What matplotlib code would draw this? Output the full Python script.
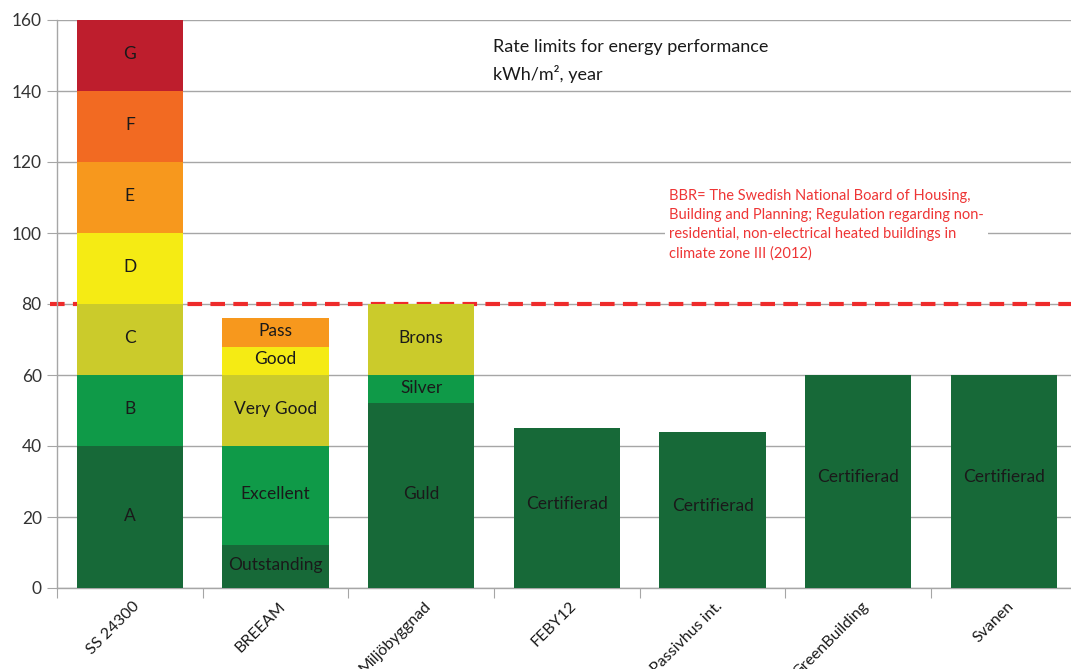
import matplotlib
matplotlib.use("Agg")
import matplotlib.pyplot as plt
import numpy as np

plt.rcParams['font.family'] = ['Lato', 'DejaVu Sans']

categories = ["SS 24300", "BREEAM", "Miljöbyggnad", "FEBY12", "Passivhus int.", "GreenBuilding", "Svanen"]

# stacked segments per category: (label, bottom, top, colour key)
ss_labels = ["A", "B", "C", "D", "E", "F", "G"]
ss_bounds = [0, 40, 60, 80, 100, 120, 140, 160]
ss_colors = ["dkgreen", "green", "olive", "yellow", "orange", "dkorange", "red"]

breeam_labels = ["Outstanding", "Excellent", "Very Good", "Good", "Pass"]
breeam_bounds = [0, 12, 40, 60, 68, 76]
breeam_colors = ["dkgreen", "green", "olive", "yellow", "orange"]

miljo_labels = ["Guld", "Silver", "Brons"]
miljo_bounds = [0, 52, 60, 80]
miljo_colors = ["dkgreen", "green", "olive"]

single_labels = ["Certifierad", "Certifierad", "Certifierad", "Certifierad"]
single_values = [45, 44, 60, 60]

bbr_limit = 80

palette = {
    "dkgreen": "#176938",
    "green": "#0F9A48",
    "olive": "#CBCB2B",
    "yellow": "#F5EB14",
    "orange": "#F7981D",
    "dkorange": "#F26A22",
    "red": "#BE1E2D",
}

fig = plt.figure(figsize=(10.71, 6.69), dpi=100)
ax = fig.add_axes([57/1071, (669-588)/669, 1 - 57/1071, (588-20)/669])

width = 0.73

def draw_stack(xi, labels, bounds, colors):
    for lab, b0, b1, c in zip(labels, bounds[:-1], bounds[1:], colors):
        ax.bar(xi, b1 - b0, bottom=b0, width=width, color=palette[c], zorder=3)
        ax.annotate(lab, xy=(xi, (b0 + b1) / 2), xytext=(0, 1), textcoords="offset points",
                    ha="center", va="center", fontsize=12.5, color="#1a1a1a", zorder=4)

draw_stack(0, ss_labels, ss_bounds, ss_colors)
draw_stack(1, breeam_labels, breeam_bounds, breeam_colors)
draw_stack(2, miljo_labels, miljo_bounds, miljo_colors)

for i, (lab, v) in enumerate(zip(single_labels, single_values)):
    xi = 3 + i
    ax.bar(xi, v, width=width, color=palette["dkgreen"], zorder=3)
    ax.annotate(lab, xy=(xi, v / 2), xytext=(0, 3), textcoords="offset points",
                ha="center", va="center", fontsize=12.5, color="#1a1a1a", zorder=4)

ax.axhline(bbr_limit, color="#EE2B2B", lw=3, ls=(0, (3.5, 2)), zorder=2.5,
           xmin=-0.007, clip_on=False)

ax.set_ylim(0, 160)
ax.set_xlim(-0.5, 6.46)
ax.set_yticks(np.arange(0, 161, 20))
ax.yaxis.grid(True, color="#A6A6A6", lw=1, zorder=1)
ax.set_axisbelow(True)
for s in ["top", "right"]:
    ax.spines[s].set_visible(False)
for s in ["left", "bottom"]:
    ax.spines[s].set_color("#A6A6A6")
    ax.spines[s].set_linewidth(1)
ax.tick_params(axis="y", length=7, color="#A6A6A6", labelsize=12.5, labelcolor="#333333", pad=4)

ax.set_xticks(np.arange(-0.5, 6.5, 1.0))
ax.set_xticklabels([])
ax.tick_params(axis="x", length=7, color="#A6A6A6")

for i, cat in enumerate(categories):
    ax.annotate(cat, xy=(i, 0), xycoords=("data", "axes fraction"),
                xytext=(2, -8), textcoords="offset points",
                rotation=45, ha="right", va="top", rotation_mode="anchor",
                fontsize=11.5, color="#1a1a1a", annotation_clip=False)

fig.text(493/1071, 1 - 47/669, "Rate limits for energy performance", fontsize=13,
         color="#1a1a1a", va="center", ha="left")
fig.text(493/1071, 1 - 74/669, "kWh/m², year", fontsize=13,
         color="#1a1a1a", va="center", ha="left")

fig.text(669/1071, 1 - 225/669,
         "BBR= The Swedish National Board of Housing,\nBuilding and Planning; Regulation regarding non-\nresidential, non-electrical heated buildings in\nclimate zone III (2012)",
         fontsize=10.5, color="#EE3535", va="center", ha="left", linespacing=1.45,
         bbox=dict(facecolor="white", edgecolor="none", pad=3))

fig.savefig("out.png", dpi=100, facecolor="white")
